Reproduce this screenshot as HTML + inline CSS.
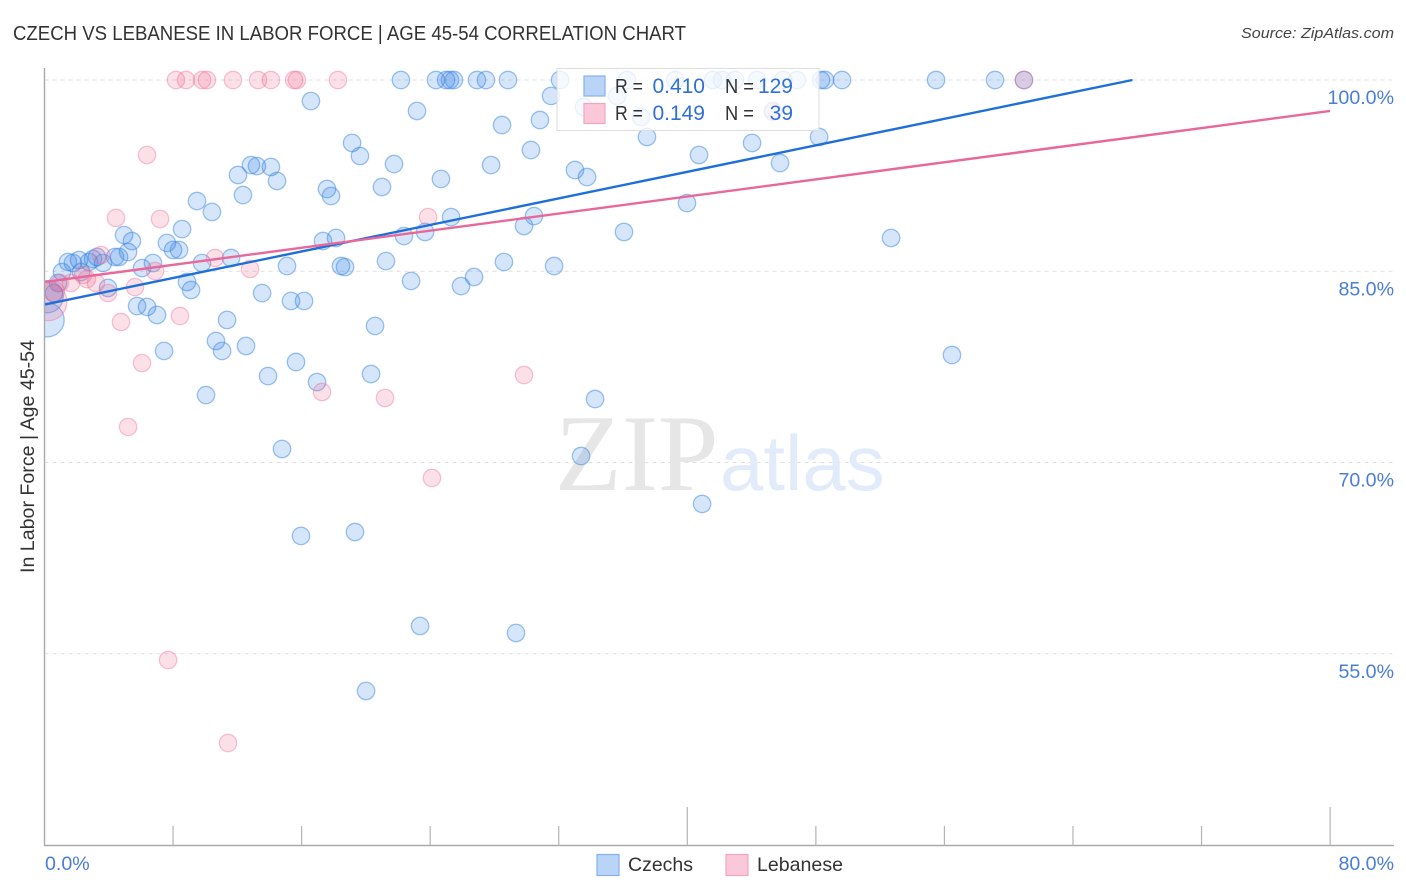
<!DOCTYPE html>
<html lang="en">
<head>
<meta charset="utf-8">
<title>Czech vs Lebanese in Labor Force | Age 45-54 Correlation Chart</title>
<style>
html,body{margin:0;padding:0;background:#fff;width:1406px;height:892px;overflow:hidden}
svg{display:block;font-family:"Liberation Sans",sans-serif}
</style>
</head>
<body>
<svg id="chart" xmlns="http://www.w3.org/2000/svg" width="1406" height="892" viewBox="0 0 1406 892">
  <defs>
    <clipPath id="plot-clip"><rect x="45" y="60" width="1349" height="785"></rect></clipPath>
  </defs>
  <rect x="0" y="0" width="1406" height="892" fill="#fff"></rect>
  <text x="13" y="40" font-size="20" fill="#333" textLength="673" lengthAdjust="spacingAndGlyphs">CZECH VS LEBANESE IN LABOR FORCE | AGE 45-54 CORRELATION CHART</text>
  <text x="1241" y="38" font-size="15" font-style="italic" fill="#444" textLength="153" lengthAdjust="spacingAndGlyphs">Source: ZipAtlas.com</text>
  <text transform="translate(34,573) rotate(-90)" font-size="19" fill="#333" textLength="233" lengthAdjust="spacingAndGlyphs">In Labor Force | Age 45-54</text>
  <g id="grid"></g>
  <g>
    <text x="555" y="490" font-family="'Liberation Serif',serif" font-size="109" fill="#e6e6e6">ZIP</text>
    <text x="720" y="490" font-family="'Liberation Sans',sans-serif" font-size="78" fill="#e2ebf9">atlas</text>
  </g>
  <g id="points" clip-path="url(#plot-clip)"></g>
  <g id="trends"></g>
  <g id="axes"></g>
  <g>
    <rect x="557" y="68.5" width="262" height="62" fill="#fff" fill-opacity="0.78" stroke="#ddd" stroke-width="1"></rect>
    <rect x="584" y="76" width="21" height="20" fill="#b9d4f7" stroke="#86b2ea" stroke-width="1.2"></rect>
    <rect x="584" y="103.5" width="21" height="20" fill="#fbc8d9" stroke="#f2a5bf" stroke-width="1.2"></rect>
    <text x="615" y="93" font-size="20" fill="#333" textLength="28" lengthAdjust="spacingAndGlyphs">R =</text>
    <text x="705" y="93" font-size="21" fill="#2f6fd6" text-anchor="end">0.410</text>
    <text x="725" y="93" font-size="20" fill="#333" textLength="29" lengthAdjust="spacingAndGlyphs">N =</text>
    <text x="793" y="93" font-size="21" fill="#2f6fd6" text-anchor="end">129</text>
    <text x="615" y="120" font-size="20" fill="#333" textLength="28" lengthAdjust="spacingAndGlyphs">R =</text>
    <text x="705" y="120" font-size="21" fill="#2f6fd6" text-anchor="end">0.149</text>
    <text x="725" y="120" font-size="20" fill="#333" textLength="29" lengthAdjust="spacingAndGlyphs">N =</text>
    <text x="793" y="120" font-size="21" fill="#2f6fd6" text-anchor="end">39</text>
  </g>
  <g>
    <rect x="597" y="854.5" width="22" height="21" fill="#b9d4f7" stroke="#86b2ea" stroke-width="1.2"></rect>
    <text x="628" y="871" font-size="19.5" fill="#333" textLength="65" lengthAdjust="spacingAndGlyphs">Czechs</text>
    <rect x="726" y="854.5" width="22" height="21" fill="#fbc8d9" stroke="#f2a5bf" stroke-width="1.2"></rect>
    <text x="757" y="871" font-size="19.5" fill="#333" textLength="86" lengthAdjust="spacingAndGlyphs">Lebanese</text>
  </g>
</svg>
<script>
var xTicks = [0, 8, 16, 24, 32, 40, 48, 56, 64, 72, 80];
var xMajorTicks = [40, 80];
var xEndLabels = ["0.0%", "80.0%"];
var yTicks = [100, 85, 70, 55];
var yTickLabels = ["100.0%", "85.0%", "70.0%", "55.0%"];

var czechX = [22.18,24.36,24.99,25.23,25.48,26.91,27.47,28.84,32.08,36.25,39.24,41.60,42.16,42.97,44.34,45.96,46.83,48.32,48.57,49.63,55.48,59.15,60.95,
16.58,23.18,31.52,28.47,30.83,33.57,35.63,37.12,45.33,37.49,40.73,44.03,45.77,48.20,33.01,33.76,30.27,27.79,
19.14,19.63,21.75,24.67,21.00,17.58,17.83,12.85,13.22,14.09,12.04,14.47,12.35,9.49,10.42,8.56,4.95,5.44,7.62,8.00,8.37,5.20,4.64,4.39,3.64,3.27,3.02,2.77,2.15,1.77,1.46,1.09,2.27,3.95,0.59,0.84,
6.75,6.07,9.80,11.61,15.09,13.54,15.34,16.15,8.87,9.12,5.76,6.38,7.00,7.44,11.36,10.67,11.05,12.54,15.65,13.91,10.05,
17.33,18.14,18.45,18.70,21.25,22.37,23.68,25.30,29.84,30.46,28.59,31.71,26.73,25.92,22.81,20.57,20.32,16.96,
36.06,39.98,52.68,56.47,34.26,33.39,40.92,29.34,23.37,19.32,15.96,20.01,14.78];
var czechY = [100,100,100,100,100,100,100,100,100,100,100,100,100,100,100,100,100,100,100,100,100,100,100,
98.35,97.57,98.75,96.47,96.86,97.88,98.75,97.10,97.57,95.53,94.12,95.06,93.49,95.53,92.94,92.39,94.51,93.33,
95.06,94.04,93.41,92.24,91.61,91.45,90.90,93.33,93.25,93.18,92.55,92.08,90.98,90.51,89.65,88.31,87.84,87.37,87.22,86.67,86.67,86.51,86.12,86.12,85.65,86.12,85.96,85.73,85.88,85.65,85.73,84.94,84.94,83.69,83.29,84.08,
85.65,85.25,85.65,86.04,85.41,83.29,82.67,82.67,84.16,83.53,82.27,82.20,81.57,78.75,81.18,79.53,78.75,79.14,77.88,76.78,75.29,
87.37,87.61,85.41,85.33,85.80,87.76,88.08,89.25,88.55,89.33,85.73,85.41,84.55,83.84,84.24,80.71,76.94,76.31,
88.08,90.35,87.61,78.43,74.98,70.51,66.75,56.63,57.18,64.55,64.24,52.08,71.06];
var czechClusterX = [0.17, 0.17];
var czechClusterY = [81.18, 83.0];
var czechClusterN = [3.8, 3.4];

var lebaneseX = [8.18,8.81,9.80,10.11,11.73,13.29,14.09,15.53,15.71,18.26,60.95,
6.38,4.45,7.19,23.87,3.52,10.61,12.79,6.88,5.63,3.95,3.20,2.64,2.40,1.65,0.96,8.43,4.76,6.07,5.20,7.69,11.42,17.27,21.19,29.84,24.11,45.33];
var lebaneseY = [100,100,100,100,100,100,100,100,100,100,100,
94.12,89.18,89.10,89.25,86.27,86.04,85.18,85.02,83.76,83.29,84.08,84.39,84.71,84.08,84.08,81.49,81.02,77.80,72.79,54.51,48.00,75.53,75.06,76.86,68.79,97.49];
var lebaneseClusterX = [0.22, 0.6];
var lebaneseClusterY = [82.6, 83.4];
var lebaneseClusterN = [4.7, 1.4];

var czechTrendX = [0, 67.7];
var czechTrendY = [82.39, 100];
var lebaneseTrendX = [0, 80];
var lebaneseTrendY = [84.16, 97.57];

var SVGNS = "http://www.w3.org/2000/svg";
function sx(v){ return 44.5 + v * 16.07; }
function sy(v){ return 80 + (100 - v) * 12.75; }
function radius(n){ return 8.7 * Math.sqrt(n); }
function mk(tag, parentId){
  var el = document.createElementNS(SVGNS, tag);
  document.getElementById(parentId).appendChild(el);
  return el;
}
function setCircle(el, x, y, n, fill, stroke, strokeOpacity){
  el.setAttribute("cx", sx(x));
  el.setAttribute("cy", sy(y));
  el.setAttribute("r", radius(n));
  el.setAttribute("fill", fill);
  el.setAttribute("fill-opacity", "0.2");
  el.setAttribute("stroke", stroke);
  el.setAttribute("stroke-opacity", strokeOpacity);
  el.setAttribute("stroke-width", "1.3");
}
function setSegment(el, x1, y1, x2, y2, color, width){
  el.setAttribute("x1", x1);
  el.setAttribute("y1", y1);
  el.setAttribute("x2", x2);
  el.setAttribute("y2", y2);
  el.setAttribute("stroke", color);
  el.setAttribute("stroke-width", width);
}

yTicks.forEach(function(v, i){
  var line = mk("line", "grid");
  
  
  setSegment(line, 44.5, sy(v), 1394, sy(v), "#e0e0e0", 1);
  line.setAttribute("stroke-dasharray", "4 4");
  var label = mk("text", "axes");
  
  
  label.setAttribute("x", 1394);
  label.setAttribute("y", sy(v) + 24);
  label.setAttribute("text-anchor", "end");
  label.setAttribute("font-size", "19.6");
  label.setAttribute("fill", "#4b7dd4");
  label.textContent = yTickLabels[i];
});

czechX.forEach(function(x, i){
  var c = mk("circle", "points");
  
  
  setCircle(c, x, czechY[i], 1, "#2d7be5", "#3b87e0", "0.5");
});
czechClusterX.forEach(function(x, i){
  var c = mk("circle", "points");
  
  
  setCircle(c, x, czechClusterY[i], czechClusterN[i], "#2d7be5", "#3b87e0", "0.5");
});
lebaneseX.forEach(function(x, i){
  var c = mk("circle", "points");
  
  
  setCircle(c, x, lebaneseY[i], 1, "#f0648c", "#ec6d98", "0.4");
});
lebaneseClusterX.forEach(function(x, i){
  var c = mk("circle", "points");
  
  
  setCircle(c, x, lebaneseClusterY[i], lebaneseClusterN[i], "#f0648c", "#ec6d98", "0.4");
});

var czechTrend = mk("line", "trends");


setSegment(czechTrend, sx(czechTrendX[0]), sy(czechTrendY[0]), sx(czechTrendX[1]), sy(czechTrendY[1]), "#1f6fd8", 2.4);
var lebaneseTrend = mk("line", "trends");


setSegment(lebaneseTrend, sx(lebaneseTrendX[0]), sy(lebaneseTrendY[0]), sx(lebaneseTrendX[1]), sy(lebaneseTrendY[1]), "#e8689a", 2.4);

var yAxis = mk("line", "axes");


setSegment(yAxis, 44.5, 68, 44.5, 846, "#aaa", 1.4);
var xAxis = mk("line", "axes");


setSegment(xAxis, 44, 845.5, 1394, 845.5, "#aaa", 1.4);
xTicks.forEach(function(v){
  if (v === 0) { return; }
  var t = mk("line", "axes");
  
  
  var top = xMajorTicks.indexOf(v) >= 0 ? 807 : 826;
  setSegment(t, sx(v), top, sx(v), 845.5, "#b4b4b4", 1.2);
});
var xStart = mk("text", "axes");


xStart.setAttribute("x", 45);
xStart.setAttribute("y", 870);
xStart.setAttribute("font-size", "19.6");
xStart.setAttribute("fill", "#4b7dd4");
xStart.textContent = xEndLabels[0];
var xEnd = mk("text", "axes");


xEnd.setAttribute("x", 1394);
xEnd.setAttribute("y", 870);
xEnd.setAttribute("text-anchor", "end");
xEnd.setAttribute("font-size", "19.6");
xEnd.setAttribute("fill", "#4b7dd4");
xEnd.textContent = xEndLabels[1];
</script>
</body>
</html>
